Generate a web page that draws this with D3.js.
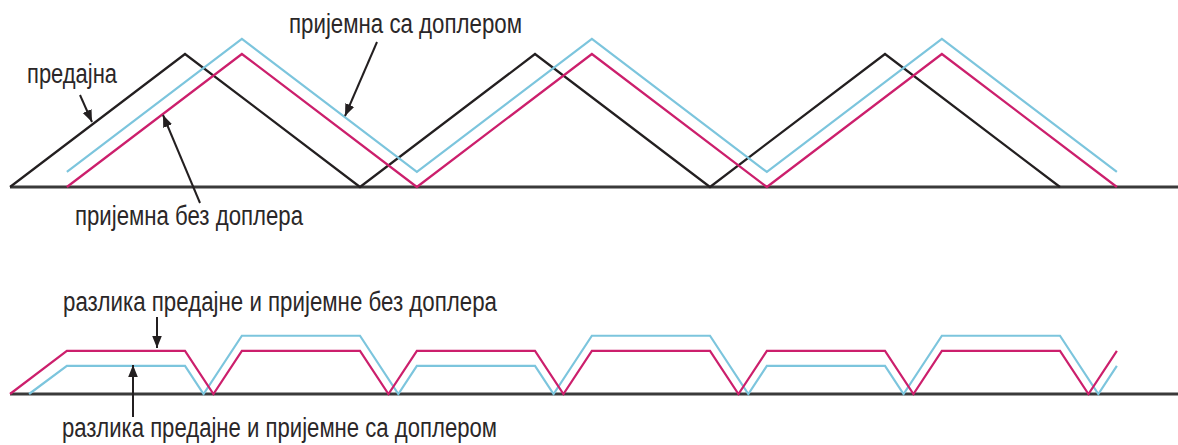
<!DOCTYPE html>
<html>
<head>
<meta charset="utf-8">
<script src="https://cdn.jsdelivr.net/npm/d3@7"></script>
<style>
  html, body { margin: 0; padding: 0; background: #fff; }
  svg { display: block; }
  .label { font-family: "Liberation Sans Narrow", "Arial Narrow", "Liberation Sans", sans-serif; fill: #2b2728; }
</style>
</head>
<body>
<div id="chart"></div>
<script>
// time in half-periods of the transmitted sweep, frequency normalised to sweep height
const txTime = [0, 1, 2, 3, 4, 5, 6];
const txFreq = [0, 1, 0, 1, 0, 1, 0];
const rxTime = [0.325, 1.325, 2.325, 3.325, 4.325, 5.325, 6.325];
const rxFreq = [0, 1, 0, 1, 0, 1, 0];
const rxDopplerFreq = [0.113, 1.113, 0.113, 1.113, 0.113, 1.113, 0.113];

// beat frequency (difference), without and with doppler
const diffTime = [0, 0.325, 1, 1.1625, 1.325, 2, 2.1625, 2.325, 3, 3.1625, 3.325, 4, 4.1625, 4.325, 5, 5.1625, 5.325, 6, 6.1625, 6.325];
const diffValue = [0, 0.325, 0.325, 0, 0.325, 0.325, 0, 0.325, 0.325, 0, 0.325, 0.325, 0, 0.325, 0.325, 0, 0.325, 0.325, 0, 0.325];
const diffDopplerTime = [0.109, 0.325, 1, 1.106, 1.325, 2, 2.219, 2.325, 3, 3.106, 3.325, 4, 4.219, 4.325, 5, 5.106, 5.325, 6, 6.219, 6.325];
const diffDopplerValue = [0, 0.212, 0.212, 0, 0.438, 0.438, 0, 0.212, 0.212, 0, 0.438, 0.438, 0, 0.212, 0.212, 0, 0.438, 0.438, 0, 0.212];

const labels = [
    { text: 'пријемна са доплером', x: 289, y: 33, w: 233, arrow: [377, 42, 345, 116] },
    { text: 'предајна', x: 27, y: 83, w: 90, arrow: [80, 95, 92, 122] },
    { text: 'пријемна без доплера', x: 75, y: 225, w: 228, arrow: [200, 203, 163, 115] },
    { text: 'разлика предајне и пријемне без доплера', x: 63, y: 311, w: 434, arrow: [157, 317, 157, 348] },
    { text: 'разлика предајне и пријемне са доплером', x: 62, y: 437, w: 435, arrow: [133, 417, 133, 365] }
];

const width = 1178, height = 445;
const colors = { tx: '#231f20', rx: '#cc1f6c', rxDoppler: '#7cc5dd', base: '#3a3a3a' };

const svg = d3.select('#chart').append('svg')
    .attr('width', width)
    .attr('height', height);

svg.append('defs').append('marker')
    .attr('id', 'arrow')
    .attr('viewBox', '0 0 10 10')
    .attr('refX', 10).attr('refY', 5)
    .attr('markerWidth', 12).attr('markerHeight', 12)
    .attr('markerUnits', 'userSpaceOnUse')
    .attr('orient', 'auto')
    .append('path')
    .attr('d', 'M0,1 L10,5 L0,9 Z')
    .attr('fill', colors.tx);

const x = d3.scaleLinear().domain([0, 6]).range([10, 1060]);
const yTop = d3.scaleLinear().domain([0, 1]).range([187, 54]);
const yBottom = d3.scaleLinear().domain([0, 1]).range([394, 261]);

const zip = (a, b) => a.map((v, i) => [v, b[i]]);

function drawPanel(y, series) {
    const line = d3.line().x(d => x(d[0])).y(d => y(d[1]));

    // baseline
    svg.append('line')
        .attr('x1', x(0)).attr('x2', width)
        .attr('y1', y(0)).attr('y2', y(0))
        .attr('stroke', colors.base)
        .attr('stroke-width', 3);

    series.forEach(s => {
        svg.append('path')
            .datum(zip(s.t, s.v))
            .attr('d', line)
            .attr('fill', 'none')
            .attr('stroke', s.color)
            .attr('stroke-width', 2.2)
            .attr('stroke-linejoin', 'miter');
    });
}

drawPanel(yTop, [
    { t: txTime, v: txFreq, color: colors.tx },
    { t: rxTime, v: rxDopplerFreq, color: colors.rxDoppler },
    { t: rxTime, v: rxFreq, color: colors.rx }
]);

drawPanel(yBottom, [
    { t: diffDopplerTime, v: diffDopplerValue, color: colors.rxDoppler },
    { t: diffTime, v: diffValue, color: colors.rx }
]);

labels.forEach(l => {
    svg.append('text')
        .attr('class', 'label')
        .attr('x', l.x)
        .attr('y', l.y)
        .attr('textLength', l.w)
        .attr('lengthAdjust', 'spacingAndGlyphs')
        .style('font-size', '27px')
        .text(l.text);

    svg.append('line')
        .attr('x1', l.arrow[0]).attr('y1', l.arrow[1])
        .attr('x2', l.arrow[2]).attr('y2', l.arrow[3])
        .attr('stroke', colors.tx)
        .attr('stroke-width', 2)
        .attr('marker-end', 'url(#arrow)');
});
</script>
</body>
</html>
